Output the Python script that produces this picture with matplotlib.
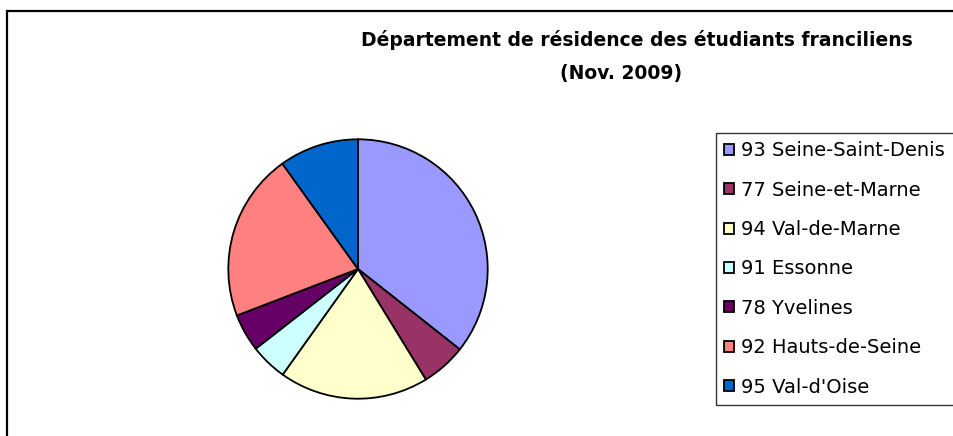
import matplotlib
matplotlib.use("Agg")
import matplotlib.pyplot as plt
from matplotlib.patches import Rectangle

departements = ["93 Seine-Saint-Denis", "77 Seine-et-Marne", "94 Val-de-Marne",
                "91 Essonne", "78 Yvelines", "92 Hauts-de-Seine", "95 Val-d'Oise"]
parts = [35.6, 5.6, 18.6, 4.6, 4.7, 20.9, 9.9]
couleurs = ["#9999FF", "#993366", "#FFFFCC", "#CCFFFF", "#660066", "#FF8080", "#0066CC"]
titre_ligne1 = "Département de résidence des étudiants franciliens"
titre_ligne2 = "(Nov. 2009)"

plt.rcParams['font.family'] = ['DejaVu Sans']

W, H = 954, 436
fig = plt.figure(figsize=(W / 100, H / 100), dpi=100)

# outer chart border (right/bottom clipped)
fig.patches.append(Rectangle((7.5 / W, -0.1), 1.2, 1 - 10.5 / H + 0.1, transform=fig.transFigure,
                             fill=False, edgecolor="black", linewidth=1.6))

cx, cy, r = 358, 269, 131
ax = fig.add_axes([(cx - r) / W, (H - cy - r) / H, 2 * r / W, 2 * r / H])
wedges, _ = ax.pie(parts, colors=couleurs, startangle=90, counterclock=False,
                   wedgeprops=dict(edgecolor="black", linewidth=1.3))
ax.set_xlim(-1.01, 1.01)
ax.set_ylim(-1.01, 1.01)
ax.set_aspect("equal")
ax.axis("off")

fig.text(637 / W, 1 - 38.5 / H, titre_ligne1, ha="center", va="center_baseline",
         fontsize=13.5, fontweight="bold")
fig.text(621 / W, 1 - 71.5 / H, titre_ligne2, ha="center", va="center_baseline",
         fontsize=13.5, fontweight="bold")

leg = fig.legend(wedges, departements, loc="upper left",
                 bbox_to_anchor=(716 / W, 1 - 133 / H, 0.3, 0), mode="expand",
                 borderaxespad=0,
                 fontsize=14, frameon=True, fancybox=False, edgecolor="black",
                 handlelength=0.5, handleheight=0.5, handletextpad=0.35,
                 labelspacing=1.05, borderpad=0.42)
leg.get_frame().set_linewidth(1.0)

fig.savefig("out.png", dpi=100)
